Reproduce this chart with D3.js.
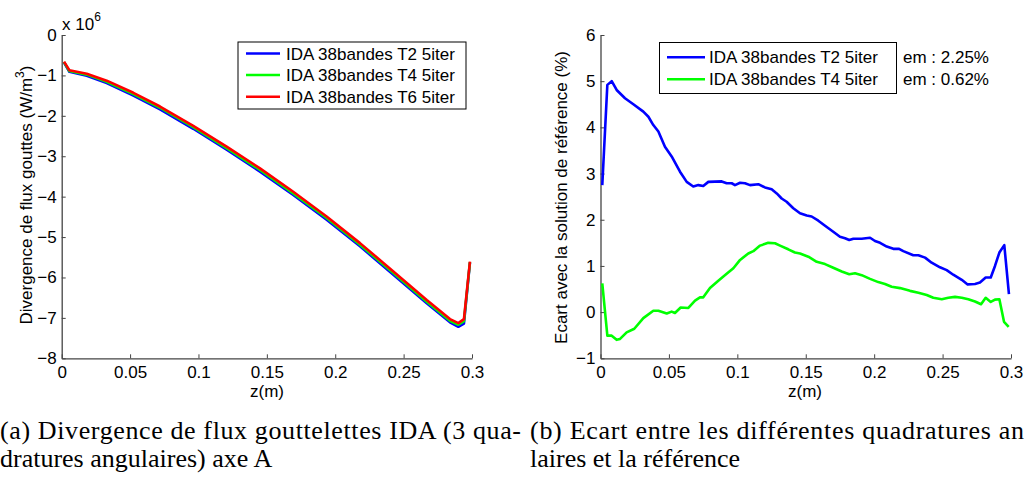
<!DOCTYPE html>
<html><head><meta charset="utf-8">
<script src="https://cdn.jsdelivr.net/npm/d3@7"></script>
<style>
html,body{margin:0;padding:0;background:#fff;}
svg{display:block;font-family:"Liberation Sans",Arial,sans-serif;}
</style></head>
<body>
<svg id="c" width="1026" height="477"></svg>
<script>
// ---------- DATA ----------
// Left chart: divergence (x 1e6 W/m^3)
const zLeft = [0.0017,0.0056,0.0183,0.0329,0.0524,0.0719,0.0962,0.1206,0.145,0.1693,0.1937,0.2181,0.2425,0.2669,0.2839,0.29,0.2941,0.2985];
const divT2 = [-0.68,-0.91,-1.01,-1.19,-1.50,-1.84,-2.32,-2.84,-3.38,-3.96,-4.57,-5.23,-5.93,-6.64,-7.11,-7.22,-7.14,-5.63];
const divT4 = [-0.67,-0.89,-0.98,-1.16,-1.46,-1.80,-2.28,-2.80,-3.34,-3.92,-4.53,-5.19,-5.89,-6.60,-7.07,-7.17,-7.08,-5.62];
const divT6 = [-0.66,-0.87,-0.96,-1.13,-1.43,-1.77,-2.25,-2.76,-3.30,-3.88,-4.49,-5.15,-5.85,-6.56,-7.03,-7.13,-7.03,-5.61];
const leftSeriesNames = ["IDA 38bandes T2 5iter","IDA 38bandes T4 5iter","IDA 38bandes T6 5iter"];

// Right chart: ecart (%)
const zT2 = [0.0013,0.005,0.0082,0.0118,0.0179,0.024,0.0313,0.035,0.0386,0.0423,0.0471,0.052,0.0581,0.063,0.0678,0.0715,0.0751,0.0788,0.0886,0.0922,0.0959,0.0983,0.102,0.1056,0.1093,0.1153,0.1202,0.1251,0.1288,0.1324,0.136,0.1409,0.1458,0.1507,0.1543,0.1592,0.1641,0.1701,0.175,0.1787,0.1818,0.1848,0.1909,0.197,0.2006,0.2043,0.2092,0.214,0.2182,0.2213,0.2286,0.2323,0.2372,0.242,0.2481,0.253,0.2578,0.264,0.2683,0.2737,0.2773,0.2815,0.2852,0.2883,0.2915,0.2951,0.2985];
const ecartT2 = [2.75,4.92,5.0,4.81,4.63,4.50,4.34,4.23,4.05,3.91,3.58,3.37,3.04,2.82,2.72,2.75,2.73,2.82,2.83,2.79,2.79,2.75,2.80,2.79,2.75,2.77,2.70,2.66,2.57,2.46,2.39,2.25,2.14,2.09,2.07,1.98,1.87,1.74,1.63,1.60,1.56,1.59,1.59,1.61,1.54,1.50,1.42,1.37,1.37,1.32,1.23,1.23,1.18,1.07,0.97,0.91,0.81,0.70,0.60,0.61,0.64,0.75,0.75,1.0,1.29,1.45,0.39];
const zT4 = [0.0013,0.005,0.0082,0.0118,0.0143,0.0191,0.0247,0.0313,0.0386,0.0423,0.0484,0.052,0.0544,0.0586,0.0642,0.0691,0.0727,0.0751,0.08,0.0861,0.0922,0.0971,0.102,0.108,0.1117,0.1166,0.1226,0.1275,0.1312,0.1372,0.1421,0.1458,0.1519,0.158,0.1641,0.1701,0.1763,0.1818,0.186,0.1909,0.197,0.203,0.2079,0.2128,0.2189,0.2262,0.2323,0.2384,0.2432,0.2494,0.2542,0.2591,0.264,0.2688,0.2737,0.2781,0.2815,0.2852,0.2883,0.2915,0.2949,0.2983];
const ecartT4 = [0.62,-0.51,-0.51,-0.60,-0.58,-0.44,-0.36,-0.13,0.03,0.03,-0.03,0.01,-0.02,0.10,0.09,0.25,0.32,0.32,0.52,0.68,0.83,0.95,1.13,1.27,1.32,1.44,1.50,1.49,1.44,1.36,1.29,1.27,1.20,1.09,1.04,0.96,0.88,0.82,0.84,0.80,0.72,0.65,0.61,0.55,0.52,0.46,0.42,0.37,0.31,0.28,0.31,0.33,0.31,0.28,0.23,0.17,0.31,0.22,0.27,0.28,-0.21,-0.32];
const rightSeriesNames = ["IDA 38bandes T2 5iter","IDA 38bandes T4 5iter"];
const rightEm = ["em : 2.25%","em : 0.62%"];

// Ticks
const xTicks = [0,0.05,0.1,0.15,0.2,0.25,0.3];
const xTickLabels = ["0","0.05","0.1","0.15","0.2","0.25","0.3"];
const leftYTicks = [0,-1,-2,-3,-4,-5,-6,-7,-8];
const rightYTicks = [-1,0,1,2,3,4,5,6];

const colors = ["#0000ff","#00ff00","#ff0000"];

// ---------- DRAW ----------
const svg = d3.select("#c");
svg.append("rect").attr("width",1026).attr("height",477).attr("fill","#fff");

const FS = 17;
const axisColor = "#444";

function drawAxes(g, x, y, yTicks, yFmt){
  const xa = g.append("g").attr("transform",`translate(0,${y.range()[0]})`)
    .call(d3.axisBottom(x).tickValues(xTicks).tickFormat((d,i)=>xTickLabels[i]).tickSizeInner(-4).tickSizeOuter(0).tickPadding(8));
  const ya = g.append("g").attr("transform",`translate(${x.range()[0]},0)`)
    .call(d3.axisLeft(y).tickValues(yTicks).tickFormat(yFmt).tickSizeInner(-4).tickSizeOuter(0).tickPadding(5));
  [xa,ya].forEach(a=>{
    a.select(".domain").attr("stroke",axisColor).attr("stroke-width",1.3);
    a.selectAll(".tick line").attr("stroke",axisColor).attr("stroke-width",1);
    a.selectAll(".tick text").attr("fill","#000").style("font-size",FS+"px").style("font-family","Liberation Sans, Arial, sans-serif");
  });
}

// Left chart
const xL = d3.scaleLinear().domain([0,0.3]).range([61.7,472]);
const yL = d3.scaleLinear().domain([-8,0]).range([358.3,35]);
const gL = svg.append("g");
drawAxes(gL, xL, yL, leftYTicks, d3.format("d"));

const lineL = d3.line().x(d=>xL(d[0])).y(d=>yL(d[1]));
[divT2,divT4,divT6].forEach((s,i)=>{
  gL.append("path").datum(zLeft.map((z,j)=>[z,s[j]]))
    .attr("d",lineL).attr("fill","none").attr("stroke",colors[i])
    .attr("stroke-width",2.6).attr("stroke-linejoin","round");
});

// x 10^6
const mult = gL.append("text").attr("x",62).attr("y",30).style("font-size",FS+"px");
mult.append("tspan").text("x 10");
mult.append("tspan").attr("dy",-9).style("font-size","12px").text("6");

// Left legend
gL.append("rect").attr("x",238).attr("y",42).attr("width",228).attr("height",67)
  .attr("fill","#fff").attr("stroke","#000").attr("stroke-width",1);
const legYL = [53.5,75,96.7];
leftSeriesNames.forEach((n,i)=>{
  gL.append("line").attr("x1",246).attr("x2",280).attr("y1",legYL[i]).attr("y2",legYL[i])
    .attr("stroke",colors[i]).attr("stroke-width",2.6);
  gL.append("text").attr("x",286).attr("y",legYL[i]+6).style("font-size",FS+"px").text(n);
});

// Left labels
gL.append("text").attr("x",267).attr("y",397).attr("text-anchor","middle").style("font-size",FS+"px").text("z(m)");
const yl = gL.append("text").attr("transform","translate(31.5,195) rotate(-90)").attr("text-anchor","middle").style("font-size",FS+"px");
yl.append("tspan").text("Divergence de flux gouttes (W/m");
yl.append("tspan").attr("dy",-8).style("font-size","12px").text("3");
yl.append("tspan").attr("dy",8).text(")");

// Right chart
const xR = d3.scaleLinear().domain([0,0.3]).range([600.5,1011]);
const yR = d3.scaleLinear().domain([-1,6]).range([358.3,35]);
const gR = svg.append("g");
drawAxes(gR, xR, yR, rightYTicks, d3.format("d"));
const lineR = d3.line().x(d=>xR(d[0])).y(d=>yR(d[1]));
[[zT2,ecartT2],[zT4,ecartT4]].forEach(([zs,vs],i)=>{
  gR.append("path").datum(zs.map((z,j)=>[z,vs[j]]))
    .attr("d",lineR).attr("fill","none").attr("stroke",colors[i])
    .attr("stroke-width",2.6).attr("stroke-linejoin","round");
});
gR.append("rect").attr("x",659.5).attr("y",42.5).attr("width",237).attr("height",51)
  .attr("fill","#fff").attr("stroke","#000").attr("stroke-width",1);
const legYR = [57.3,79.3];
rightSeriesNames.forEach((n,i)=>{
  gR.append("line").attr("x1",667).attr("x2",705).attr("y1",legYR[i]).attr("y2",legYR[i])
    .attr("stroke",colors[i]).attr("stroke-width",2.6);
  gR.append("text").attr("x",709).attr("y",legYR[i]+6).style("font-size",FS+"px").text(n);
  gR.append("text").attr("x",903).attr("y",legYR[i]+6).style("font-size",FS+"px").text(rightEm[i]);
});
gR.append("text").attr("x",805).attr("y",397).attr("text-anchor","middle").style("font-size",FS+"px").text("z(m)");
gR.append("text").attr("transform","translate(567,197.5) rotate(-90)").attr("text-anchor","middle").style("font-size",FS+"px")
  .text("Ecart avec la solution de référence (%)");

// Captions
const capFont = "Liberation Serif, Times New Roman, serif";
function cap(x,y,t,len){
  const e = svg.append("text").attr("x",x).attr("y",y).style("font-family",capFont).style("font-size","26px").text(t);
  if(len) e.attr("textLength",len).attr("lengthAdjust","spacing");
}
cap(0,439,"(a) Divergence de flux gouttelettes IDA (3 qua-",521);
cap(0,467,"dratures angulaires) axe A");
cap(530,439,"(b) Ecart entre les différentes quadratures an",494);
cap(530,467,"laires et la référence");
</script>
</body></html>
